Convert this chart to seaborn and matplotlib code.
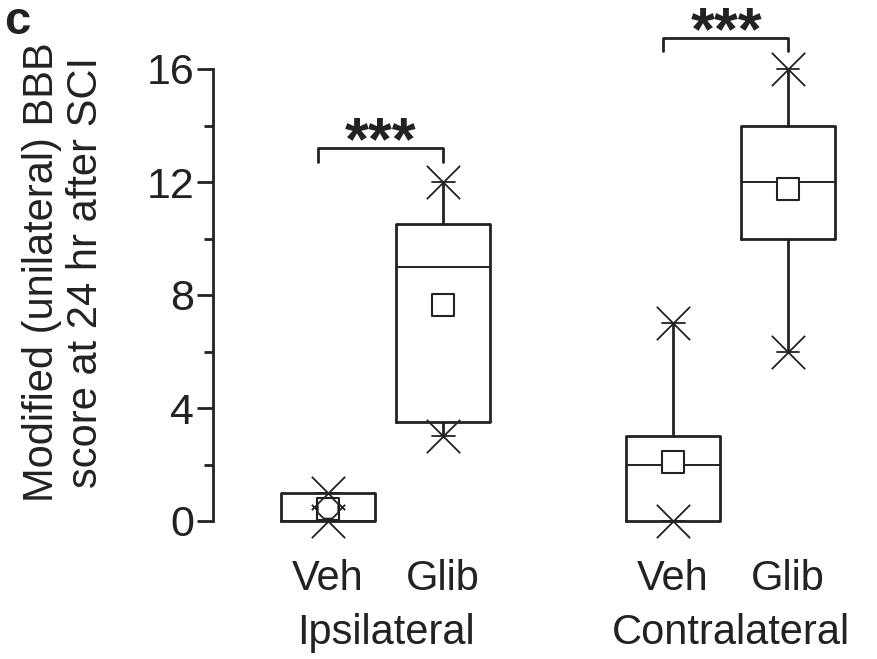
import numpy as np
import pandas as pd
import matplotlib
matplotlib.use("Agg")
import matplotlib.pyplot as plt
import seaborn as sns

# ---- data ----
sides = ["Ipsilateral", "Contralateral"]
conditions = ["Veh", "Glib", "Veh", "Glib"]
group_of_box = ["Ipsilateral", "Ipsilateral", "Contralateral", "Contralateral"]
q1 = [0.0, 3.5, 0.0, 10.0]
medians = [0.0, 9.0, 2.0, 12.0]
q3 = [1.0, 10.5, 3.0, 14.0]
mins = [0.0, 3.0, 0.0, 6.0]
maxs = [1.0, 12.0, 7.0, 16.0]
means = [0.42, 7.65, 2.1, 11.75]
extra_octagon = [0.45]          # small octagon marker on Ipsilateral Veh
sig_labels = ["***", "***"]
yticks = [0, 4, 8, 12, 16]

# ---- layout ----
positions = [0, 1, 3, 4]
box_w = 0.81

sns.set_style("ticks")
plt.rcParams["font.family"] = ["Liberation Sans", "DejaVu Sans"]

fig = plt.figure(figsize=(8.77, 6.59), dpi=100)
W, H = 877, 659
px_unit_y = 28.25
y0_px = 521
ax_top_px = 0
ax_bot_px = y0_px + px_unit_y * 1.0
ax = fig.add_axes([213 / W, (H - ax_bot_px) / H, (W - 213) / W, (ax_bot_px - ax_top_px) / H])
ax.set_ylim(-1.0, (y0_px - ax_top_px) / px_unit_y)
ax.set_xlim(-1.0, -1.0 + (W - 213) / 115.0)

lw = 2.0
stats = []
for i in range(len(q1)):
    stats.append(dict(med=medians[i], q1=q1[i], q3=q3[i],
                      whislo=mins[i], whishi=maxs[i], fliers=[], label=conditions[i]))
ax.bxp(stats, positions=positions, widths=box_w, showfliers=False,
       manage_ticks=False, capwidths=0.2,
       boxprops=dict(color="#222222", linewidth=lw),
       whiskerprops=dict(color="#222222", linewidth=lw),
       capprops=dict(color="#222222", linewidth=1.3),
       medianprops=dict(color="#222222", linewidth=1.4))

df = pd.DataFrame({"pos": positions, "mean": means, "min": mins, "max": maxs})
sns.scatterplot(data=df, x="pos", y="min", marker="x", s=24**2, color="#222222",
                linewidth=1.3, ax=ax, zorder=5, legend=False)
sns.scatterplot(data=df, x="pos", y="max", marker="x", s=24**2, color="#222222",
                linewidth=1.3, ax=ax, zorder=5, legend=False)
sns.scatterplot(data=df, x="pos", y="mean", marker="s", s=16.5**2, facecolor="white",
                edgecolor="#222222", linewidth=1.5, ax=ax, zorder=6, legend=False)
sns.scatterplot(x=[positions[0]], y=extra_octagon, marker="8", s=16**2, facecolor="none",
                edgecolor="#222222", linewidth=1.3, ax=ax, zorder=7, legend=False)

# significance brackets
brackets = [(-0.085, 1.0, 13.2, 12.7, 0.46, 12.35), (2.91, 4.0, 17.1, 16.63, 3.47, 16.25)]
for (xl, xr, yt, yb, xs, ys), lab in zip(brackets, sig_labels):
    ax.plot([xl, xl, xr, xr], [yb, yt, yt, yb], color="#222222", lw=lw, clip_on=False)
    ax.text(xs, ys, lab, ha="center", va="bottom", fontsize=44, fontweight="bold",
            color="#222222", clip_on=False)

# axes styling
for s in ["top", "right", "bottom"]:
    ax.spines[s].set_visible(False)
ax.spines["left"].set_bounds(0, 16)
ax.spines["left"].set_linewidth(lw)
ax.spines["left"].set_color("#222222")
ax.set_yticks(yticks)
ax.set_yticks([2, 6, 10, 14], minor=True)
ax.tick_params(axis="y", which="major", length=11.5, width=lw, labelsize=31,
               color="#222222", labelcolor="#222222", pad=2)
ax.tick_params(axis="y", which="minor", length=6.5, width=lw, color="#222222")
ax.set_xticks([])
ax.set_xlabel("")
ax.set_ylabel("")

# category labels
for p, c in zip(positions, conditions):
    ax.text(p, -2.05, c, ha="center", va="center", fontsize=30, color="#222222", clip_on=False)
ax.text(0.5, -3.95, sides[0], ha="center", va="center", fontsize=30, color="#222222", clip_on=False)
ax.text(3.5, -3.95, sides[1], ha="center", va="center", fontsize=30, color="#222222", clip_on=False)

fig.text(64 / W, 1 - 272 / H, "Modified (unilateral) BBB\nscore at 24 hr after SCI",
         rotation=90, ha="center", va="center", multialignment="center",
         fontsize=30, color="#222222", linespacing=1.12)
fig.text(4 / W, 1 - 0 / H, "c", ha="left", va="top", fontsize=34, fontweight="bold",
         color="#222222")

fig.savefig("out.png", dpi=100)
